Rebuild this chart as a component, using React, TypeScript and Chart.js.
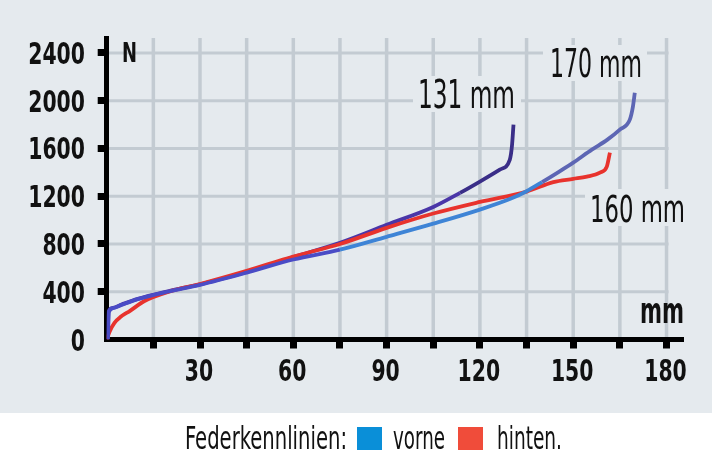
import { useEffect, useRef } from "react";
import { Chart, registerables } from "chart.js";

Chart.register(...registerables);

// spring curves (travel in mm, force in N)
const TRAVEL_131 = [0.3, 0.6, 2, 5, 10, 20, 30, 45, 60, 75, 90, 105, 113.6, 120, 126.4, 129.6, 130.3, 130.8];
const FORCE_131 = [0, 235, 265, 295, 340, 405, 462, 565, 690, 810, 960, 1110, 1228, 1323, 1423, 1505, 1620, 1800];

const TRAVEL_170 = [0.4, 0.7, 2, 5, 10, 20, 30, 45, 60, 75, 90, 105, 120, 130, 135, 140, 145, 150, 156, 161, 165, 168.2, 169.2, 169.8];
const FORCE_170 = [0, 230, 262, 292, 338, 402, 458, 560, 670, 752, 860, 970, 1088, 1180, 1242, 1318, 1398, 1481, 1590, 1674, 1758, 1841, 1950, 2067];

const TRAVEL_160 = [0, 1, 2.5, 4.5, 7.5, 12, 20, 30, 45, 60, 75, 90, 105, 120, 135, 143.6, 150, 154.4, 158.6, 160.8, 161.8];
const FORCE_160 = [0, 70, 140, 190, 240, 320, 400, 465, 575, 695, 800, 935, 1055, 1152, 1239, 1318, 1345, 1364, 1398, 1448, 1565];

const X_GRID = [0, 15, 30, 45, 60, 75, 90, 105, 120, 135, 150, 165, 180];
const X_LABELS = [30, 60, 90, 120, 150, 180];
const Y_GRID = [0, 400, 800, 1200, 1600, 2000, 2400];

const CURVE_LABELS = ["131 mm", "170 mm", "160 mm"];
const LEGEND_TITLE = "Federkennlinien:";
const LEGEND_ITEMS = ["vorne", "hinten."];

const BG = "#e5eaee";
const GRID = "#c3cbd2";
const INK = "#111";
const FONT = "'Liberation Sans Narrow', 'DejaVu Sans Condensed', 'Roboto', sans-serif";
const DIGIT_W = 14.2;

function pairs(xs: number[], ys: number[]) {
  return xs.map((x, i) => ({ x, y: ys[i] }));
}

// draw text squeezed to a given width (the print font is very condensed)
function fitText(ctx: CanvasRenderingContext2D, text: string, left: number, baseline: number, width: number, font: string) {
  ctx.font = font;
  const w = ctx.measureText(text).width;
  ctx.save();
  ctx.translate(left, baseline);
  ctx.scale(width / w, 1);
  ctx.textAlign = "left";
  ctx.textBaseline = "alphabetic";
  ctx.fillStyle = INK;
  ctx.fillText(text, 0, 0);
  ctx.restore();
}

const decor = {
  id: "decor",
  beforeDraw(chart: any) {
    const { ctx, scales } = chart;
    const xs = scales.x;
    const ys = scales.y;
    ctx.save();
    ctx.fillStyle = BG;
    ctx.fillRect(0, 0, chart.width, 413);
    ctx.fillStyle = "#fff";
    ctx.fillRect(0, 413, chart.width, chart.height - 413);

    const top = chart.chartArea.top;
    const bottom = ys.getPixelForValue(0);
    const left = chart.chartArea.left + 2;
    const right = xs.getPixelForValue(X_GRID[X_GRID.length - 1]) + 2;

    ctx.strokeStyle = GRID;
    ctx.lineWidth = 3.5;
    for (const v of X_GRID) {
      if (v === 0) continue;
      const px = xs.getPixelForValue(v);
      ctx.beginPath();
      ctx.moveTo(px, top);
      ctx.lineTo(px, bottom);
      ctx.stroke();
    }
    ctx.lineWidth = 3;
    for (const v of Y_GRID) {
      if (v === 0) continue;
      const py = ys.getPixelForValue(v);
      ctx.beginPath();
      ctx.moveTo(left, py);
      ctx.lineTo(right, py);
      ctx.stroke();
    }

    // label backgrounds that interrupt the grid
    ctx.fillStyle = BG;
    ctx.fillRect(413, 76, 108, 36);
    ctx.fillRect(543, 45, 104, 36);
    ctx.fillRect(585, 189, 104, 37);
    ctx.restore();
  },
  afterDraw(chart: any) {
    const ctx: CanvasRenderingContext2D = chart.ctx;
    const xs = chart.scales.x;
    const ys = chart.scales.y;
    const bold = `bold 30px ${FONT}`;

    // axis tick labels, condensed like the print font
    for (const v of Y_GRID) {
      const t = String(v);
      const w = t.length * DIGIT_W;
      fitText(ctx, t, 85 - w, ys.getPixelForValue(v) + 11, w, bold);
    }
    for (const v of X_LABELS) {
      const t = String(v);
      const w = t.length * DIGIT_W;
      fitText(ctx, t, xs.getPixelForValue(v) - w / 2 - 1, 381, w, bold);
    }

    fitText(ctx, CURVE_LABELS[0], 418, 108, 97, `39px ${FONT}`);
    fitText(ctx, CURVE_LABELS[1], 550, 77, 92, `39px ${FONT}`);
    fitText(ctx, CURVE_LABELS[2], 590, 222, 95, `38px ${FONT}`);
    fitText(ctx, "N", 122, 62, 15, `bold 27px ${FONT}`);
    fitText(ctx, "mm", 640, 323, 44, `bold 35px ${FONT}`);

    fitText(ctx, LEGEND_TITLE, 185, 449, 162, `32px ${FONT}`);
    ctx.fillStyle = "#0a8fd8";
    ctx.fillRect(357, 427, 25, 23);
    fitText(ctx, LEGEND_ITEMS[0], 393, 449, 52, `32px ${FONT}`);
    ctx.fillStyle = "#f04c3a";
    ctx.fillRect(458, 427, 25, 23);
    fitText(ctx, LEGEND_ITEMS[1], 497, 449, 65, `32px ${FONT}`);
  },
};

export default function App() {
  const canvasRef = useRef<HTMLCanvasElement | null>(null);

  useEffect(() => {
    document.body.style.margin = "0";
    if (!canvasRef.current) return;

    const tickColor = (c: any) => (c.tick && c.tick.value === 0 ? "rgba(0,0,0,0)" : "#000");

    const chart = new Chart(canvasRef.current, {
      type: "scatter",
      data: {
        datasets: [
          {
            label: "170 mm",
            data: pairs(TRAVEL_170, FORCE_170),
            showLine: true,
            borderWidth: 3.8,
            borderColor: "#5d66b4",
            segment: {
              borderColor: (c: any) => {
                const x = c.p0.parsed.x;
                return x < 75 ? "#4a4cc6" : x < 140 ? "#3e84d6" : "#5d66b4";
              },
            },
            pointRadius: 0,
            cubicInterpolationMode: "monotone",
          },
          {
            label: "160 mm",
            data: pairs(TRAVEL_160, FORCE_160),
            showLine: true,
            borderWidth: 3.8,
            borderColor: "#e8332d",
            pointRadius: 0,
            cubicInterpolationMode: "monotone",
          },
          {
            label: "131 mm",
            data: pairs(TRAVEL_131, FORCE_131),
            showLine: true,
            borderWidth: 3.8,
            borderColor: "#3a2e88",
            segment: {
              borderColor: (c: any) => (c.p0.parsed.x < 110 ? "#4a36a8" : "#3a2e88"),
            },
            pointRadius: 0,
            cubicInterpolationMode: "monotone",
          },
        ],
      },
      options: {
        responsive: false,
        animation: false,
        layout: { padding: { top: 38, right: 29, left: 0, bottom: 0 } },
        plugins: { legend: { display: false }, tooltip: { enabled: false } },
        scales: {
          x: {
            type: "linear",
            min: 0,
            max: 185.3,
            afterBuildTicks: (scale: any) => {
              scale.ticks = X_GRID.map((value) => ({ value }));
            },
            afterFit: (scale: any) => {
              scale.height = 118.5;
            },
            ticks: { display: false, autoSkip: false },
            grid: { drawOnChartArea: false, drawTicks: true, tickLength: 9, tickWidth: 7, tickColor },
            border: { display: true, color: "#000", width: 5 },
          },
          y: {
            type: "linear",
            min: 0,
            max: 2525,
            afterBuildTicks: (scale: any) => {
              scale.ticks = Y_GRID.map((value) => ({ value }));
            },
            afterFit: (scale: any) => {
              scale.width = 106.7;
            },
            ticks: { display: false },
            grid: { drawOnChartArea: false, drawTicks: true, tickLength: 9, tickWidth: 7, tickColor },
            border: { display: true, color: "#000", width: 5 },
          },
        },
      },
      plugins: [decor],
    });

    return () => chart.destroy();
  }, []);

  return (
    <div style={{ width: 712, height: 458 }}>
      <canvas ref={canvasRef} width={712} height={458} style={{ display: "block" }} />
    </div>
  );
}
